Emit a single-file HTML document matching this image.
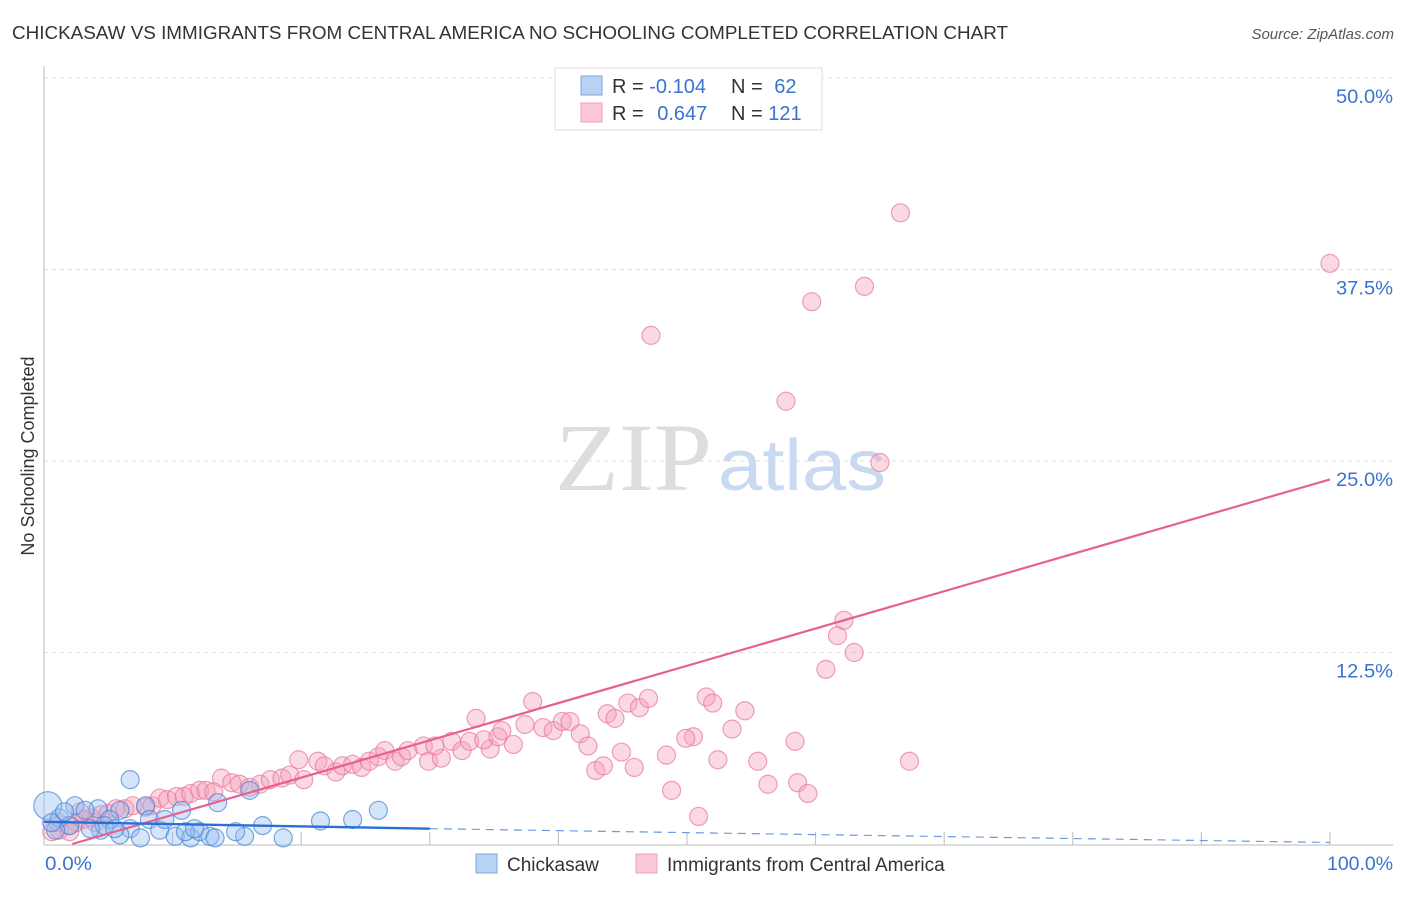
<!DOCTYPE html>
<html><head><meta charset="utf-8"><style>
body{margin:0;background:#fff;font-family:"Liberation Sans",sans-serif;}
svg text{font-family:"Liberation Sans",sans-serif;}
</style></head><body>
<svg id="chart" width="1406" height="892" viewBox="0 0 1406 892" xmlns="http://www.w3.org/2000/svg">
<text x="12" y="39" font-size="18" fill="#333" textLength="996" lengthAdjust="spacingAndGlyphs">CHICKASAW VS IMMIGRANTS FROM CENTRAL AMERICA NO SCHOOLING COMPLETED CORRELATION CHART</text>
<text x="1394" y="39" font-size="15" fill="#555" text-anchor="end" font-style="italic">Source: ZipAtlas.com</text>
<text transform="translate(34,456) rotate(-90)" font-size="18" fill="#333" text-anchor="middle">No Schooling Completed</text>
<g>
<text x="555" y="490" font-size="96" fill="#ddd" textLength="157" lengthAdjust="spacingAndGlyphs" style="font-family:'Liberation Serif',serif">ZIP</text>
<text x="718" y="490" font-size="72" fill="#c9daf0" textLength="168" lengthAdjust="spacingAndGlyphs">atlas</text>
</g>
<g id="grid"></g>
<g id="axes"></g>
<g id="pink"></g>
<g id="blue"></g>
<g id="lines"></g>
<g>
<rect x="555" y="68" width="267" height="62" fill="#fff" stroke="#ddd"/>
<rect x="581" y="76" width="21" height="19" fill="#b8d2f4" stroke="#7aa6e0"/>
<rect x="581" y="103" width="21" height="19" fill="#fbc8d8" stroke="#f0a0b8"/>
<text x="612" y="93" font-size="20" fill="#333">R = <tspan fill="#3a73d0">-0.104</tspan></text>
<text x="731" y="93" font-size="20" fill="#333">N = <tspan fill="#3a73d0" dx="6">62</tspan></text>
<text x="612" y="120" font-size="20" fill="#333">R = <tspan fill="#3a73d0" dx="8">0.647</tspan></text>
<text x="731" y="120" font-size="20" fill="#333">N = <tspan fill="#3a73d0">121</tspan></text>
</g>
<g>
<rect x="476" y="854" width="21" height="19" fill="#b8d2f4" stroke="#7aa6e0"/>
<text x="507" y="871" font-size="19" fill="#333">Chickasaw</text>
<rect x="636" y="854" width="21" height="19" fill="#fbc8d8" stroke="#f0a0b8"/>
<text x="667" y="871" font-size="19" fill="#333">Immigrants from Central America</text>
</g>
</svg>
<script>
const xTicks=[0,10,20,30,40,50,60,70,80,90,100];
const yTicks=[12.5,25,37.5,50];
const yTickLabels=["12.5%","25.0%","37.5%","50.0%"];
const xEndLabels=["0.0%","100.0%"];
const blueX=[0.3,2.4,6.7,16.0,13.5,10.7,7.9,4.2,3.2,5.9,26.0,21.5,24.0,17.0,8.2,5.1,1.2,2.0,4.4,6.7,9.0,10.2,11.4,12.1,12.9,15.6,18.6,7.5,5.9,9.4,4.7,3.6,0.9,13.3,11.0,14.9,11.7,0.6,1.6,5.5];
const blueY=[2.5,2.5,4.2,3.5,2.7,2.2,2.5,2.3,2.2,2.2,2.2,1.5,1.6,1.2,1.6,1.6,1.7,1.2,0.9,1.0,0.9,0.5,0.4,0.8,0.5,0.5,0.4,0.4,0.6,1.6,1.2,1.0,0.9,0.4,0.8,0.8,1.0,1.4,2.1,1.0];
const pinkX=[0.6,1.2,1.9,2.5,3.1,3.7,4.4,5.0,5.6,6.3,6.9,7.9,8.4,9.0,9.6,10.3,10.9,11.4,12.1,12.6,13.2,13.8,14.6,15.2,16.0,16.8,17.6,18.5,19.1,20.2,19.8,21.3,21.8,22.7,23.2,24.0,24.7,25.3,26.0,26.5,27.3,27.8,28.3,29.5,29.9,30.9,30.4,31.7,32.5,33.1,34.7,34.2,36.5,35.3,35.6,37.4,38.8,39.6,40.3,40.9,41.7,42.3,33.6,38.0,43.8,44.4,45.4,46.3,47.0,51.5,52.0,54.5,50.5,49.9,53.5,52.4,44.9,45.9,42.9,43.5,48.4,55.5,58.4,56.3,58.6,59.4,48.8,50.9,67.3,60.8,63.0,61.7,62.2,65.0,57.7,47.2,59.7,63.8,100,66.6,1.1,2.8,4.0,2.0];
const pinkY=[0.8,0.9,1.2,1.4,1.6,1.7,1.9,2.0,2.3,2.3,2.5,2.4,2.5,3.0,2.9,3.1,3.1,3.3,3.5,3.5,3.4,4.3,4.0,3.9,3.7,3.9,4.2,4.3,4.5,4.2,5.5,5.4,5.1,4.7,5.1,5.2,5.0,5.4,5.7,6.1,5.4,5.7,6.1,6.4,5.4,5.6,6.4,6.7,6.1,6.7,6.2,6.8,6.5,7.0,7.4,7.8,7.6,7.4,8.0,8.0,7.2,6.4,8.2,9.3,8.5,8.2,9.2,8.9,9.5,9.6,9.2,8.7,7.0,6.9,7.5,5.5,6.0,5.0,4.8,5.1,5.8,5.4,6.7,3.9,4.0,3.3,3.5,1.8,5.4,11.4,12.5,13.6,14.6,24.9,28.9,33.2,35.4,36.4,37.9,41.2,1.4,2.1,1.4,0.8];
const blueTrend=[[0,1.45],[30,1.0],[100,0.1]];
const pinkTrend=[[2.2,0],[100,23.8]];
const X=v=>44+v*12.86, Y=v=>844-v*15.32;
const NS="http://www.w3.org/2000/svg";
function mk(tag,attrs,parent){const e=document.createElementNS(NS,tag);for(const k in attrs)e.setAttribute(k,attrs[k]);document.getElementById(parent).appendChild(e);return e;}
yTicks.forEach((t,i)=>{
 const g=mk('line',{x1:44,x2:1393,y1:Y(t),y2:Y(t),stroke:'#ddd','stroke-dasharray':'4 4'},'grid');
 
 
 const l=mk('text',{x:1393,y:Y(t)+25,'font-size':19,fill:'#3a73d0','text-anchor':'end',textLength:57,lengthAdjust:'spacingAndGlyphs'},'axes');
 l.textContent=yTickLabels[i];
 
 
});
const ax=mk('line',{x1:44,x2:44,y1:66,y2:845,stroke:'#bbb'},'axes');


const bx=mk('line',{x1:44,x2:1393,y1:845,y2:845,stroke:'#bbb'},'axes');


xTicks.forEach(t=>{
 const k=mk('line',{x1:X(t),x2:X(t),y1:832,y2:845,stroke:'#bbb'},'axes');
 
 
});
[[0,'start',45,47],[100,'end',1393,66]].forEach((d,i)=>{
 const l=mk('text',{x:d[2],y:870,'font-size':19,fill:'#3a73d0','text-anchor':d[1],textLength:d[3],lengthAdjust:'spacingAndGlyphs'},'axes');
 l.textContent=xEndLabels[i];
 
 
});
pinkX.forEach((v,i)=>{
 const c=mk('circle',{cx:X(v),cy:Y(pinkY[i]),r:9,fill:'rgba(244,160,185,0.4)',stroke:'rgba(232,120,155,0.7)','stroke-width':1.2},'pink');
 
 
});
blueX.forEach((v,i)=>{
 const c=mk('circle',{cx:X(v),cy:Y(blueY[i]),r:i==0?14:9,fill:'rgba(150,190,240,0.4)',stroke:'rgba(70,130,215,0.7)','stroke-width':1.2},'blue');
 
 
});
const pl=mk('line',{x1:X(pinkTrend[0][0]),y1:Y(pinkTrend[0][1]),x2:X(pinkTrend[1][0]),y2:Y(pinkTrend[1][1]),stroke:'#e8608e','stroke-width':2.2},'lines');


const b1=mk('line',{x1:X(blueTrend[0][0]),y1:Y(blueTrend[0][1]),x2:X(blueTrend[1][0]),y2:Y(blueTrend[1][1]),stroke:'#2a6fd6','stroke-width':2.4},'lines');


const b2=mk('line',{x1:X(blueTrend[1][0]),y1:Y(blueTrend[1][1]),x2:X(blueTrend[2][0]),y2:Y(blueTrend[2][1]),stroke:'#6a9ae0','stroke-width':1.2,'stroke-dasharray':'8 6'},'lines');


</script>
</body></html>
